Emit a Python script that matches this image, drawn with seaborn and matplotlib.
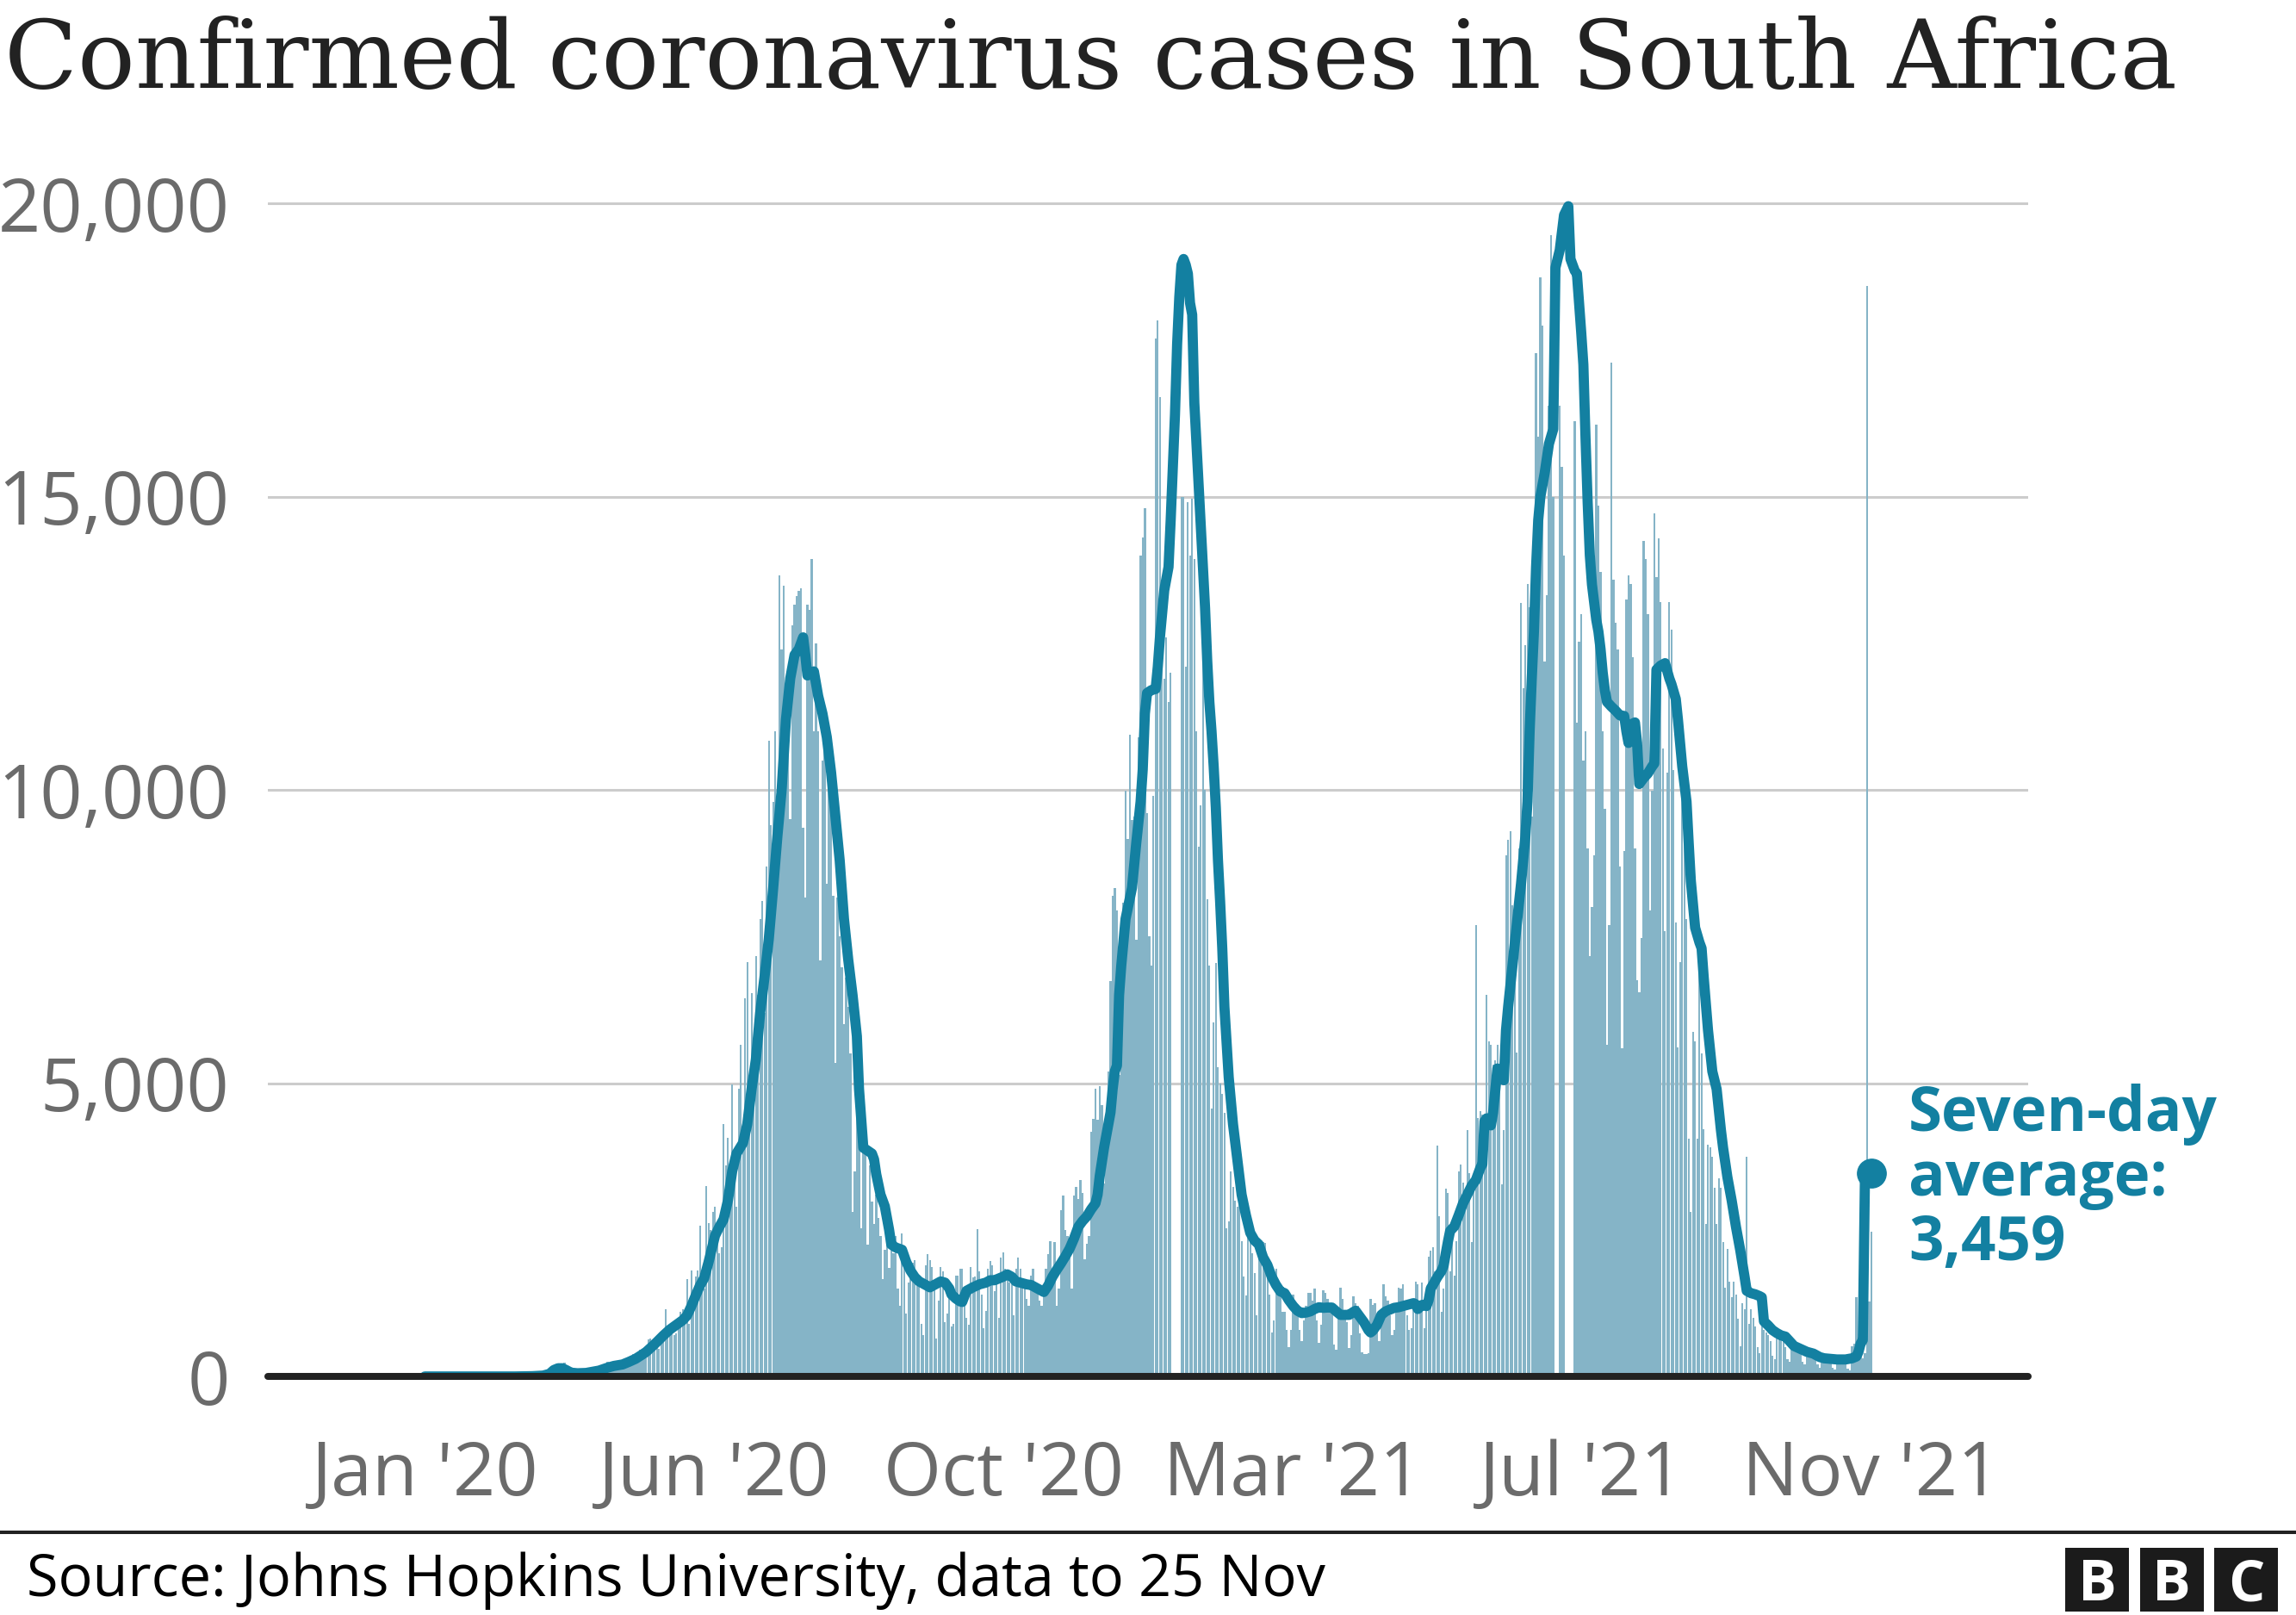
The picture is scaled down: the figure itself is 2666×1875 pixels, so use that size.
import numpy as np
import pandas as pd
import matplotlib
matplotlib.use("Agg")
import matplotlib.pyplot as plt
from matplotlib.patches import Rectangle
from matplotlib.lines import Line2D
from matplotlib.ticker import FuncFormatter
import seaborn as sns

# Daily confirmed cases, 22 Jan 2020 to 25 Nov 2021, one row per week.
# Days above 20,000 are not drawn as bars in the original chart.
daily_cases = [
    0, 0, 0, 0, 0, 0, 0,
    0, 0, 0, 0, 0, 0, 0,
    0, 0, 0, 0, 0, 0, 0,
    0, 0, 0, 0, 0, 0, 0,
    0, 0, 0, 0, 0, 0, 0,
    0, 0, 0, 0, 0, 0, 0,
    0, 1, 0, 1, 0, 4, 0,
    6, 4, 7, 14, 13, 11, 23,
    31, 34, 52, 38, 34, 128, 152,
    155, 218, 243, 17, 93, 46, 27,
    27, 82, 43, 80, 70, 69, 63,
    96, 89, 31, 25, 145, 99, 143,
    178, 251, 196, 251, 178, 124, 186,
    220, 250, 280, 200, 280, 340, 390,
    350, 380, 450, 390, 350, 420, 630,
    640, 580, 620, 520, 470, 560, 740,
    1140, 820, 900, 800, 700, 740, 990,
    1100, 1150, 1050, 1660, 900, 1800, 1100,
    1700, 1800, 2570, 1500, 1500, 3250, 2620,
    2500, 2800, 2900, 2400, 2100, 2200, 4300,
    3600, 4070, 3300, 4980, 3800, 2900, 4900,
    5660, 4200, 6440, 7070, 5000, 6530, 4800,
    7160, 6500, 7800, 8100, 6200, 8700, 10840,
    9400, 9800, 11000, 8500, 13660, 12400, 13480,
    10500, 11500, 9500, 12800, 13160, 13300, 13390,
    13440, 9350, 8160, 13160, 13070, 13940, 11000,
    12500, 11000, 7100, 10500, 11200, 8400, 10000,
    9800, 8200, 5350, 8160, 7500, 6980, 6000,
    6800, 6300, 5500, 2800, 3500, 6300, 4500,
    2530, 4000, 3800, 2250, 3600, 2980, 2600,
    3100, 2710, 2400, 1660, 2160, 2500, 1850,
    2300, 2100, 2390, 1500, 1200, 2440, 2000,
    1070, 1600, 1890, 1940, 1980, 1690, 1700,
    900, 710, 1890, 2090, 1990, 1870, 1600,
    650, 1300, 1870, 1790, 930, 1070, 1500,
    850, 900, 1720, 1720, 1840, 1840, 1300,
    1000, 880, 1870, 1690, 1700, 2510, 1790,
    1400, 830, 1120, 1840, 1970, 1890, 1450,
    1600, 1000, 2020, 2110, 1840, 1790, 1600,
    1600, 1050, 1840, 2020, 1840, 1600, 1500,
    1320, 1200, 1720, 1840, 1600, 1500, 1300,
    1200, 1400, 1840, 2090, 2310, 1700, 2290,
    1200, 1500, 2830, 3080, 2490, 2400, 2040,
    1500, 3080, 3230, 3030, 3350, 3130, 2000,
    2260, 2400, 4170, 4390, 4910, 4380, 4950,
    4630, 3290, 4000, 5200, 6740, 8200, 8330,
    7950, 5140, 6930, 8070, 9990, 9160, 10940,
    9480, 9540, 7440, 10900, 14000, 14300, 14800,
    9600, 7500, 7000, 9900, 17700, 18000, 16700,
    13000, 11900, 12600, 11500, 12000, 21000, 22000,
    21900, 21800, 15000, 15000, 12100, 14900, 14000,
    14960, 13940, 11000, 9030, 9730, 12220, 10000,
    8140, 7000, 4570, 6030, 7050, 5270, 5000,
    4820, 4500, 2530, 2650, 3500, 3230, 3000,
    2900, 3160, 2300, 1700, 1380, 2400, 2330,
    2100, 1760, 1050, 2210, 2000, 2290, 2270,
    1690, 1400, 750, 950, 1840, 1590, 1400,
    1100, 1100, 800, 505, 800, 1400, 1270,
    1100, 800, 600, 950, 1200, 1420, 1420,
    1300, 1500, 950, 580, 880, 1470, 1420,
    1320, 1120, 1200, 550, 455, 1100, 1510,
    1320, 1050, 930, 480, 700, 1370, 1250,
    1200, 730, 410, 380, 390, 400, 1320,
    1220, 1250, 1050, 600, 900, 1570, 1370,
    1300, 1050, 700, 800, 1150, 1520, 1500,
    1570, 1300, 1050, 800, 830, 1150, 1620,
    1570, 1250, 1600, 830, 1150, 2040, 2150,
    2210, 1790, 3940, 2730, 1100, 1500, 3200,
    3130, 1790, 2350, 1720, 2310, 3500, 3620,
    3300, 2950, 4200, 3470, 2290, 3210, 7700,
    4400, 4530, 4470, 3700, 6510, 5720, 5650,
    5320, 5390, 5650, 4930, 3280, 4200, 8890,
    9150, 9290, 8030, 7300, 5520, 9000, 13180,
    11730, 12460, 13510, 13120, 9550, 11530, 17450,
    16020, 18730, 17910, 12190, 13320, 16550, 19460,
    15000, 24000, 26500, 16550, 15500, 14000, 21500,
    22500, 21000, 20500, 16290, 11140, 12520, 13000,
    10500, 11000, 9000, 7170, 8000, 8890, 16220,
    14840, 13710, 11000, 9680, 5650, 7700, 17280,
    13580, 12850, 12390, 8690, 5590, 8960, 13250,
    13650, 13510, 12260, 9000, 6760, 6550, 7480,
    14240, 13930, 12990, 7950, 9980, 14710, 13620,
    14290, 13200, 10710, 7590, 10290, 13200, 12730,
    10340, 7740, 5610, 7070, 10140, 9200, 7800,
    4050, 2810, 5870, 5720, 4050, 7480, 5510,
    4210, 2600, 3950, 3900, 3740, 3220, 2600,
    3380, 3220, 2290, 1510, 2180, 1610, 1350,
    1610, 1400, 990, 520, 1250, 1140, 3740,
    900, 1150, 1000, 850, 500, 400, 950,
    800, 750, 700, 600, 350, 300, 800,
    700, 650, 600, 500, 300, 250, 650,
    550, 500, 450, 400, 250, 200, 500,
    450, 400, 380, 350, 200, 150, 400,
    350, 320, 300, 280, 150, 120, 350,
    300, 300, 280, 250, 130, 100, 520,
    560, 1350, 520, 780, 310, 400, 18586,
    1275, 2465,
]

# Seven-day average: (days since 22 Jan 2020, cases)
seven_day_avg = [
    (0, 0), (42, 0), (50, 5), (55, 15), (58, 45), (60, 110), (62, 140), (64, 140),
    (66, 105), (68, 65), (71, 55), (75, 60), (78, 80), (81, 100), (85, 150), (88, 180),
    (92, 205), (95, 250), (98, 300), (101, 370), (103, 420), (106, 520), (108, 590),
    (111, 700), (114, 800), (117, 880), (120, 960), (122, 1040), (124, 1200), (126, 1380),
    (128, 1550), (130, 1680), (132, 1950), (135, 2400), (137, 2550), (139, 2680),
    (141, 3000), (143, 3500), (145, 3800), (148, 3980), (150, 4300), (152, 4900),
    (154, 5400), (156, 6200), (158, 6800), (160, 7450), (162, 8300), (164, 9200),
    (166, 10000), (168, 11200), (170, 11900), (172, 12300), (174, 12400), (176, 12600),
    (177, 12300), (178, 11950), (180, 12000), (181, 12020), (183, 11600), (185, 11300),
    (187, 10900), (189, 10300), (191, 9550), (193, 8800), (195, 7800), (197, 7100),
    (199, 6500), (201, 5800), (202, 4900), (204, 3900), (206, 3850), (208, 3800),
    (209, 3700), (210, 3450), (212, 3100), (214, 2900), (216, 2500), (217, 2250),
    (219, 2200), (222, 2160), (224, 1950), (226, 1800), (228, 1690), (230, 1620),
    (233, 1560), (235, 1520), (237, 1560), (240, 1620), (242, 1600), (244, 1500),
    (245, 1400), (247, 1330), (249, 1280), (250, 1270), (252, 1460), (255, 1520),
    (258, 1570), (261, 1600), (263, 1640), (265, 1640), (267, 1670), (269, 1700),
    (271, 1740), (273, 1700), (275, 1620), (278, 1590), (280, 1570), (282, 1560),
    (284, 1520), (286, 1480), (288, 1440), (290, 1550), (292, 1700), (294, 1820),
    (296, 1930), (298, 2050), (300, 2180), (302, 2350), (304, 2550), (306, 2650),
    (308, 2730), (310, 2850), (312, 2950), (313, 3100), (314, 3420), (316, 3900),
    (318, 4300), (319, 4500), (320, 4900), (321, 5200), (322, 5300), (323, 6500),
    (324, 7000), (326, 7800), (328, 8150), (329, 8330), (331, 9100), (333, 9800),
    (334, 10350), (335, 11300), (336, 11650), (338, 11700), (340, 11720), (341, 12100),
    (342, 12600), (343, 13000), (344, 13400), (345, 13600), (346, 13800), (347, 14600),
    (348, 15500), (349, 16400), (350, 17600), (351, 18400), (352, 18950), (353, 19050),
    (354, 18950), (355, 18800), (356, 18300), (357, 18100), (358, 16600), (359, 15900),
    (360, 15200), (361, 14500), (362, 13800), (363, 13100), (364, 12200), (365, 11500),
    (366, 11000), (367, 10400), (368, 9700), (369, 8800), (370, 8100), (371, 7300),
    (372, 6300), (373, 5700), (374, 5100), (375, 4700), (376, 4300), (377, 4000),
    (378, 3700), (379, 3400), (380, 3100), (382, 2750), (384, 2450), (386, 2320),
    (388, 2250), (390, 2030), (392, 1900), (394, 1700), (396, 1560), (398, 1450),
    (400, 1420), (402, 1300), (404, 1200), (406, 1120), (408, 1080), (410, 1090),
    (412, 1110), (414, 1150), (416, 1180), (418, 1170), (420, 1175), (422, 1175),
    (424, 1110), (426, 1050), (428, 1050), (430, 1050), (432, 1100), (433, 1120),
    (435, 1020), (437, 920), (439, 790), (440, 750), (441, 780), (443, 880),
    (445, 1050), (447, 1110), (449, 1140), (451, 1170), (453, 1180), (455, 1200),
    (457, 1220), (460, 1250), (461, 1230), (462, 1150), (464, 1220), (466, 1200),
    (467, 1300), (468, 1500), (469, 1560), (471, 1690), (473, 1800), (474, 1890),
    (475, 2100), (476, 2300), (477, 2480), (479, 2560), (481, 2750), (483, 2950),
    (485, 3100), (487, 3250), (489, 3350), (491, 3550), (492, 3620), (493, 4350),
    (494, 4400), (496, 4280), (497, 4500), (499, 5250), (501, 5200), (502, 5050),
    (503, 5900), (504, 6300), (506, 7000), (508, 7700), (510, 8400), (512, 9200),
    (513, 9800), (514, 11000), (515, 11900), (516, 12700), (517, 13800), (518, 14600),
    (519, 15000), (521, 15400), (523, 15900), (525, 16150), (526, 18900), (528, 19200),
    (530, 19800), (532, 19950), (533, 19050), (535, 18850), (536, 18800), (538, 17800),
    (539, 17250), (540, 16000), (541, 14900), (542, 14000), (543, 13500), (544, 13200),
    (545, 12900), (546, 12700), (547, 12400), (548, 12000), (549, 11700), (550, 11500),
    (552, 11420), (554, 11350), (556, 11270), (558, 11260), (559, 11000), (560, 10800),
    (561, 10900), (562, 11130), (563, 11150), (564, 10800), (565, 10100), (567, 10200),
    (569, 10280), (571, 10400), (572, 10450), (573, 12050), (575, 12120), (577, 12160),
    (579, 11900), (580, 11800), (582, 11550), (583, 11200), (585, 10400), (587, 9800),
    (588, 9100), (589, 8450), (591, 7650), (593, 7400), (594, 7300), (595, 6800),
    (597, 5900), (599, 5200), (601, 4900), (603, 4200), (604, 3900), (606, 3400),
    (608, 3000), (610, 2550), (612, 2150), (614, 1700), (615, 1460), (617, 1420),
    (619, 1400), (621, 1370), (622, 1350), (623, 940), (625, 870), (627, 790),
    (629, 740), (631, 700), (633, 680), (635, 600), (637, 520), (640, 470),
    (643, 420), (646, 390), (649, 330), (651, 310), (654, 300), (657, 290),
    (661, 290), (664, 310), (666, 340), (667, 420), (668, 560), (669, 620),
    (670, 3380), (671, 3420), (672, 3450), (673, 3459),
]

tick_labels = ["Jan '20", "Jun '20", "Oct '20", "Mar '21", "Jul '21", "Nov '21"]
y_ticks = [0, 5000, 10000, 15000, 20000]

title = "Confirmed coronavirus cases in South Africa"
source = "Source: Johns Hopkins University, data to 25 Nov"
note = "Seven-day\naverage:\n3,459"

BLUE = "#1380a1"
BAR = "#85b4c7"
GREY = "#6b6b6b"
DARK = "#222222"
Y_MAX = 20000

sns.set_theme(style="white")
plt.rcParams["font.family"] = ["Open Sans", "DejaVu Sans"]

cases = pd.DataFrame({"day": np.arange(len(daily_cases)), "cases": daily_cases})
avg = pd.DataFrame(seven_day_avg, columns=["day", "cases"])

fig = plt.figure(figsize=(26.66, 18.75), dpi=100)
ax = fig.add_axes([0.1167, 0.1477, 0.7667, 0.7446])

# bars over the top of the scale are left out, as in the original
shown = cases[cases["cases"] <= Y_MAX]
ax.bar(shown["day"], shown["cases"], width=0.9, color=BAR, linewidth=0, zorder=2)

sns.lineplot(data=avg, x="day", y="cases", color=BLUE, linewidth=8.5, ax=ax, zorder=3)
ax.lines[-1].set_solid_capstyle("round")
ax.lines[-1].set_solid_joinstyle("round")
last = avg.iloc[-1]
ax.plot([last["day"]], [last["cases"]], "o", color=BLUE, markersize=24, zorder=4)

ax.axhline(0, color=DARK, linewidth=5.8, zorder=5, clip_on=False)

ax.set_xlim(-73, 746)
ax.set_ylim(0, 20500)
ax.set_xticks(np.linspace(0, len(daily_cases) - 1, len(tick_labels)))
ax.set_xticklabels(tick_labels)
ax.set_yticks(y_ticks)
ax.yaxis.set_major_formatter(FuncFormatter(lambda v, p: f"{v:,.0f}"))
ax.tick_params(axis="x", length=24, width=1.5, color=DARK, pad=28,
               labelsize=62, labelcolor=GREY)
ax.tick_params(axis="y", length=0, pad=32, labelsize=62, labelcolor=GREY)
ax.yaxis.grid(True, color="#cccccc", linewidth=2.2)
ax.xaxis.grid(False)
ax.set_axisbelow(True)
for s in ax.spines.values():
    s.set_visible(False)
ax.set_xlabel("")
ax.set_ylabel("")

fig.text(0.0019, 1 - 102 / 1875, title, family="DejaVu Serif", fontsize=80,
         color=DARK, va="baseline", ha="left")

fig.text(0.8312, 0.329, note, fontsize=51, fontweight="bold", color=BLUE,
         va="top", ha="left", linespacing=1.05)

fig.add_artist(Line2D([0, 1], [1 - 1779 / 1875] * 2, color=DARK, linewidth=2.9,
                      transform=fig.transFigure))
fig.text(31 / 2666, 1 - 1853 / 1875, source, fontsize=48, color="#000000",
         va="baseline", ha="left")

# BBC blocks
for i, letter in enumerate("BBC"):
    x0 = (2398 + i * 86.5) / 2666
    y0 = 1 - 1871 / 1875
    w, h = 74 / 2666, 74 / 1875
    fig.add_artist(Rectangle((x0, y0), w, h, transform=fig.transFigure,
                             color="#1b1b1b", linewidth=0))
    fig.text(x0 + w / 2, y0 + 12.5 / 1875, letter, fontsize=48, fontweight="bold",
             color="white", ha="center", va="baseline")

fig.savefig("out.png", dpi=100)
